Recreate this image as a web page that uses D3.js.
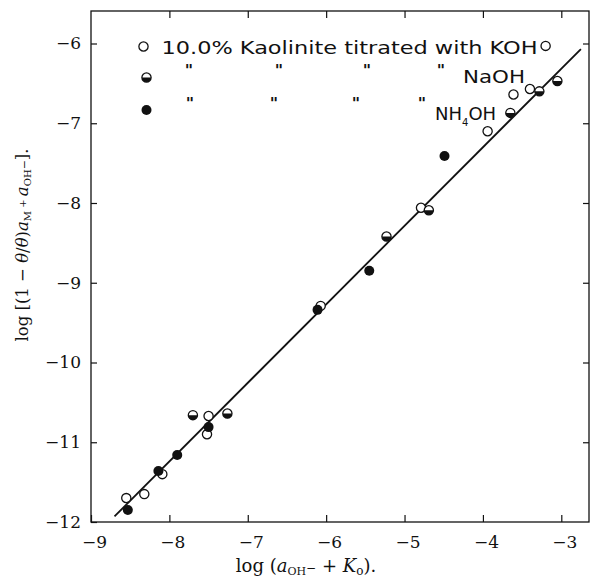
<!DOCTYPE html>
<html>
<head>
<meta charset="utf-8">
<script src="https://cdn.jsdelivr.net/npm/d3@7"></script>
<style>
  html, body { margin: 0; padding: 0; background: #fff; }
  svg { display: block; }
</style>
</head>
<body>
<svg id="chart" width="591" height="578"></svg>
<script>
// Kaolinite titration: log of base activity vs. log of adsorption term
const xTicks = [-9, -8, -7, -6, -5, -4, -3];
const yTicks = [-12, -11, -10, -9, -8, -7, -6];

// 10.0% kaolinite titrated with KOH (open circles)
const kohX = [-3.20, -3.40, -3.61, -3.94, -4.79, -6.07, -7.50, -7.52, -8.09, -8.32, -8.55];
const kohY = [-6.03, -6.57, -6.64, -7.10, -8.06, -9.29, -10.67, -10.90, -11.40, -11.65, -11.70];

// titrated with NaOH (half-filled circles)
const naohX = [-3.05, -3.28, -3.65, -4.69, -5.23, -7.70, -7.26];
const naohY = [-6.47, -6.60, -6.87, -8.09, -8.42, -10.66, -10.64];

// titrated with NH4OH (filled circles)
const nh4X = [-4.49, -5.45, -6.11, -7.50, -7.90, -8.14, -8.53];
const nh4Y = [-7.41, -8.85, -9.34, -10.81, -11.16, -11.36, -11.85];

// fitted straight line, end points
const fitX = [-8.70, -2.75];
const fitY = [-11.93, -6.07];

const svg = d3.select("#chart");

const frameL = 91, frameR = 589, frameT = 11, frameB = 522;
const x = d3.scaleLinear().domain([-9, -3]).range([frameL, 561.3]);
const y = d3.scaleLinear().domain([-12, -6]).range([frameB, 43.5]);

const ink = "#111";
const serif = "'DejaVu Serif', 'Liberation Serif', serif";
const sans = "'DejaVu Sans', 'Noto Sans', sans-serif";

// frame
svg.append("rect")
  .attr("x", frameL).attr("y", frameT)
  .attr("width", frameR - frameL).attr("height", frameB - frameT)
  .attr("fill", "none").attr("stroke", ink).attr("stroke-width", 1.3);

// axes: inward ticks on all four sides, numbers on bottom and left
const fmt = d3.format("d");
const gB = svg.append("g").attr("transform", `translate(0,${frameB})`)
  .call(d3.axisBottom(x).tickValues(xTicks).tickFormat(fmt).tickSize(-7).tickPadding(14));
const gT = svg.append("g").attr("transform", `translate(0,${frameT})`)
  .call(d3.axisTop(x).tickValues(xTicks.slice(1)).tickFormat("").tickSize(-7));
const gL = svg.append("g").attr("transform", `translate(${frameL},0)`)
  .call(d3.axisLeft(y).tickValues(yTicks).tickFormat(fmt).tickSize(-6).tickPadding(10));
const gR = svg.append("g").attr("transform", `translate(${frameR},0)`)
  .call(d3.axisRight(y).tickValues(yTicks.slice(1)).tickFormat("").tickSize(-6));

[gB, gT, gL, gR].forEach(g => {
  g.select(".domain").remove();
  g.selectAll(".tick line").attr("stroke", ink).attr("stroke-width", 1.2);
  g.selectAll(".tick text").attr("fill", ink)
    .style("font-family", serif).style("font-size", "17px");
});
gB.selectAll(".tick text").attr("dx", "3px");

// fitted line
svg.append("line")
  .attr("x1", x(fitX[0])).attr("y1", y(fitY[0]))
  .attr("x2", x(fitX[1])).attr("y2", y(fitY[1]))
  .attr("stroke", ink).attr("stroke-width", 1.8);

const r = 4.6;
function openMark(g) {
  g.append("circle").attr("r", r).attr("fill", "#fff")
    .attr("stroke", ink).attr("stroke-width", 1.3);
}
function halfMark(g) {
  g.append("circle").attr("r", r).attr("fill", "#fff")
    .attr("stroke", ink).attr("stroke-width", 1.3);
  g.append("path").attr("d", `M${-r},0 A${r},${r} 0 0 0 ${r},0 Z`).attr("fill", ink);
}
function filledMark(g) {
  g.append("circle").attr("r", r + 0.4).attr("fill", ink);
}

function plot(xs, ys, mark) {
  xs.forEach((v, i) => {
    const g = svg.append("g").attr("transform", `translate(${x(v)},${y(ys[i])})`);
    mark(g);
  });
}
plot(kohX, kohY, openMark);
plot(naohX, naohY, halfMark);
plot(nh4X, nh4Y, filledMark);

// legend
const leg = svg.append("g").style("font-family", sans).attr("fill", ink);
const s1 = leg.append("g").attr("transform", "translate(143.5,46.5)"); openMark(s1);
const s2 = leg.append("g").attr("transform", "translate(146.5,77.5)"); halfMark(s2);
const s3 = leg.append("g").attr("transform", "translate(146.5,110)"); filledMark(s3);

leg.append("text").attr("x", 161.5).attr("y", 54)
  .attr("textLength", 376).attr("lengthAdjust", "spacingAndGlyphs")
  .style("font-size", "18px")
  .text("10.0% Kaolinite titrated with KOH");

const ditto2 = [189, 279, 367, 441];
const ditto3 = [190, 274, 356, 422];
ditto2.forEach(v => leg.append("text").attr("x", v).attr("y", 76)
  .attr("text-anchor", "middle").style("font-size", "16px").style("font-weight", "bold").text("\""));
ditto3.forEach(v => leg.append("text").attr("x", v).attr("y", 109)
  .attr("text-anchor", "middle").style("font-size", "16px").style("font-weight", "bold").text("\""));

leg.append("text").attr("x", 463).attr("y", 83)
  .attr("textLength", 62).attr("lengthAdjust", "spacingAndGlyphs")
  .style("font-size", "18px").text("NaOH");

const nh = leg.append("text").attr("x", 435).attr("y", 120).style("font-size", "18px");
nh.append("tspan").text("NH");
nh.append("tspan").attr("dy", 6).style("font-size", "10px").text("4");
nh.append("tspan").attr("dy", -6).text("OH");

// x axis title
const xt = svg.append("text").attr("x", 306).attr("y", 572)
  .attr("text-anchor", "middle").style("font-family", serif).style("font-size", "18px").attr("fill", ink);
xt.append("tspan").text("log (");
xt.append("tspan").style("font-style", "italic").text("a");
xt.append("tspan").attr("dy", 3).style("font-size", "11px").text("OH");
xt.append("tspan").attr("dy", -3).style("font-size", "12px").text("−");
xt.append("tspan").text(" + ");
xt.append("tspan").style("font-style", "italic").text("K");
xt.append("tspan").attr("dy", 3).style("font-size", "12px").text("o");
xt.append("tspan").attr("dy", -3).text(").");

// y axis title
const yt = svg.append("text")
  .attr("transform", "translate(28,245) rotate(-90)")
  .attr("text-anchor", "middle").style("font-family", serif).style("font-size", "16.5px").attr("fill", ink);
yt.append("tspan").text("log [(1 − ");
yt.append("tspan").style("font-style", "italic").text("θ");
yt.append("tspan").text("/");
yt.append("tspan").style("font-style", "italic").text("θ");
yt.append("tspan").text(")");
yt.append("tspan").style("font-style", "italic").text("a");
yt.append("tspan").attr("dy", 3).style("font-size", "10px").text("M");
yt.append("tspan").attr("dy", -5).style("font-size", "10px").text(" + ");
yt.append("tspan").attr("dy", 2).style("font-style", "italic").text("a");
yt.append("tspan").attr("dy", 3).style("font-size", "10px").text("OH");
yt.append("tspan").attr("dy", -3).style("font-size", "11px").text("−");
yt.append("tspan").text("].");
</script>
</body>
</html>
